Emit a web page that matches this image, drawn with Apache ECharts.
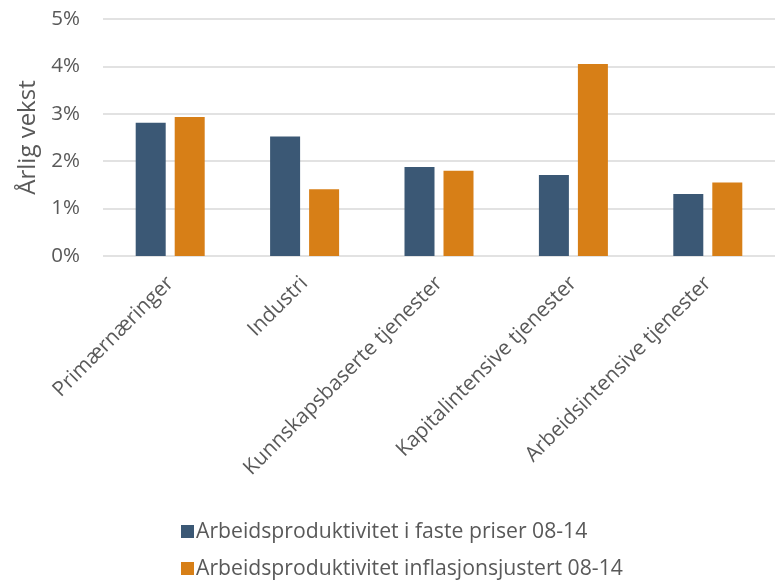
<!DOCTYPE html>
<html>
<head>
<meta charset="utf-8">
<script src="https://cdn.jsdelivr.net/npm/echarts@6/dist/echarts.min.js"></script>
<style>
  html, body { margin: 0; padding: 0; background: #ffffff; }
  #chart { width: 775px; height: 580px; }
</style>
</head>
<body>
<div id="chart"></div>
<script>
// Sectors on the category axis
const categories = [
  'Primærnæringer',
  'Industri',
  'Kunnskapsbaserte tjenester',
  'Kapitalintensive tjenester',
  'Arbeidsintensive tjenester'
];

// Annual growth in percent, 2008-2014
const fastePriser = [2.81, 2.52, 1.88, 1.71, 1.31];
const inflasjonsjustert = [2.93, 1.41, 1.80, 4.05, 1.55];

const seriesNames = [
  'Arbeidsproduktivitet i faste priser 08-14',
  'Arbeidsproduktivitet inflasjonsjustert 08-14'
];

// Value-axis ticks
const yTicks = [0, 1, 2, 3, 4, 5];

const textColor = '#595959';
const fontFamily = '"Open Sans", "Noto Sans", sans-serif';
const labelSize = 20.8;

const chart = echarts.init(document.getElementById('chart'), null, { renderer: 'canvas' });

// One legend per series, stacked one above the other
function legendRow(name, top) {
  return {
    orient: 'horizontal',
    left: 176,
    top: top,
    itemWidth: 13,
    itemHeight: 13,
    icon: 'rect',
    textStyle: { fontFamily: fontFamily, fontSize: 21.2, color: textColor, padding: [0, 0, 0, -3] },
    data: [name]
  };
}

chart.setOption({
  animation: false,
  backgroundColor: '#ffffff',
  textStyle: { fontFamily: fontFamily, color: textColor },
  grid: { left: 103, top: 19, width: 678, bottom: 324, containLabel: false },
  legend: [legendRow(seriesNames[0], 516), legendRow(seriesNames[1], 553)],
  xAxis: {
    type: 'category',
    data: categories,
    axisLine: { show: false },
    axisTick: { show: false },
    axisLabel: {
      rotate: 45,
      interval: 0,
      margin: 24,
      padding: [12, 0, 0, 0],
      fontFamily: fontFamily,
      fontSize: labelSize,
      color: textColor
    }
  },
  yAxis: {
    type: 'value',
    min: yTicks[0],
    max: yTicks[yTicks.length - 1],
    interval: 1,
    name: 'Årlig vekst',
    nameLocation: 'middle',
    nameRotate: 90,
    nameGap: 63,
    nameTextStyle: { fontFamily: fontFamily, fontSize: 24, color: textColor },
    axisLine: { show: false },
    axisTick: { show: false },
    axisLabel: {
      margin: 23,
      fontFamily: fontFamily,
      fontSize: 20.5,
      color: textColor,
      formatter: '{value}%'
    },
    splitLine: { lineStyle: { color: '#D9D9D9', width: 1.5 } }
  },
  series: [
    {
      name: seriesNames[0],
      type: 'bar',
      data: fastePriser,
      barWidth: 30,
      barGap: '30%',
      itemStyle: { color: '#3B5875' }
    },
    {
      name: seriesNames[1],
      type: 'bar',
      data: inflasjonsjustert,
      barWidth: 30,
      barGap: '30%',
      itemStyle: { color: '#D77F17' }
    }
  ]
});
</script>
</body>
</html>
